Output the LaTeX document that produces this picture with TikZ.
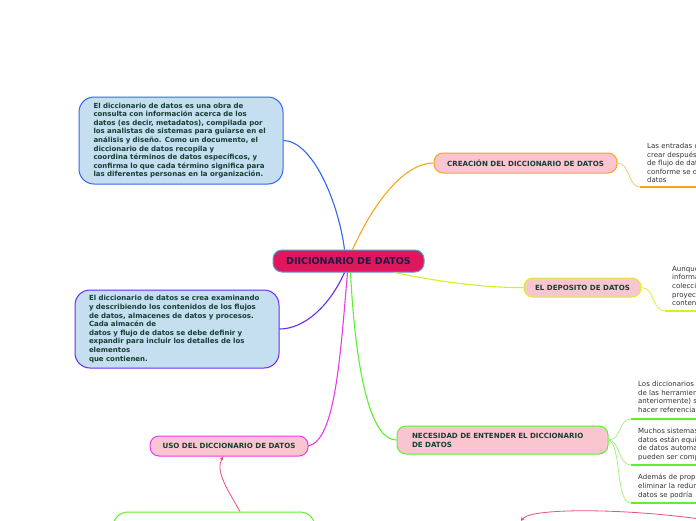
\documentclass[tikz,border=0pt]{standalone}
\usepackage{fontspec}
\setmainfont{DejaVu Sans}
\usetikzlibrary{arrows.meta}
\definecolor{centerfill}{HTML}{E0175C}
\definecolor{centerdraw}{HTML}{5A9BD5}
\definecolor{centertext}{HTML}{1A1A4A}
\definecolor{bluefill}{HTML}{C5DEF0}
\definecolor{blueline}{HTML}{3366F5}
\definecolor{purpleline}{HTML}{6A2BF0}
\definecolor{pinkfill}{HTML}{F9C6D0}
\definecolor{orangeline}{HTML}{F5A623}
\definecolor{yellowline}{HTML}{D8F020}
\definecolor{greenline}{HTML}{5EF030}
\definecolor{lightgreen}{HTML}{9CF27A}
\definecolor{magentaline}{HTML}{E83CE8}
\definecolor{darkgreen}{HTML}{133F33}
\definecolor{greytext}{HTML}{333333}
\definecolor{pinkarrow}{HTML}{E8507A}
\tikzset{
  x=1pt, y=-1pt,
  centerbox/.style={rounded corners=9pt, fill=centerfill, draw=centerdraw, line width=1pt,
    text=centertext, font=\bfseries\fontsize{9.5}{11}\selectfont, minimum width=151pt, minimum height=22pt},
  infobox/.style={rounded corners=15pt, fill=bluefill, line width=1pt, text=darkgreen,
    font=\bfseries\fontsize{7}{8.6}\selectfont, align=left, inner sep=0pt},
  topicbox/.style={rounded corners=9pt, fill=pinkfill, line width=1pt, text=darkgreen,
    font=\bfseries\fontsize{7.1}{9}\selectfont, inner sep=0pt},
  subtext/.style={anchor=north west, inner sep=0pt, align=left, text=greytext,
    font=\fontsize{7}{8.6}\selectfont},
  mainlink/.style={line width=1.1pt},
  sublink/.style={line width=0.7pt},
  underline/.style={line width=2pt},
  pinklink/.style={draw=pinkarrow, line width=0.8pt, -{Stealth[length=4pt,width=4pt]}},
}
\begin{document}
\begin{tikzpicture}
\clip (0,0) rectangle (696,520);
\fill[white] (0,0) rectangle (696,520);

% main nodes
\node[centerbox] (central) at (348.5,261) {DIICIONARIO DE DATOS};

\node[infobox, draw=blueline, minimum width=204pt, minimum height=87pt, text width=175pt] (box1) at (181,140.5)
{El diccionario de datos es una obra de\\
consulta con información acerca de los\\
datos (es decir, metadatos), compilada por\\
los analistas de sistemas para guiarse en el\\
análisis y diseño. Como un documento, el\\
diccionario de datos recopila y\\
coordina términos de datos específicos, y\\
confirma lo que cada término significa para\\
las diferentes personas en la organización.};

\node[infobox, draw=purpleline, minimum width=204pt, minimum height=78pt, text width=176pt] (box2) at (177,329)
{El diccionario de datos se crea examinando\\
y describiendo los contenidos de los flujos\\
de datos, almacenes de datos y procesos.\\
Cada almacén de\\
datos y flujo de datos se debe definir y\\
expandir para incluir los detalles de los\\
elementos\\
que contienen.};

\node[topicbox, draw=orangeline, minimum width=183pt, minimum height=20pt] (creacion) at (525.5,163)
{CREACIÓN DEL DICCIONARIO DE DATOS};
\node[topicbox, draw=yellowline, minimum width=117pt, minimum height=19pt] (deposito) at (582.5,287.5)
{EL DEPOSITO DE DATOS};
\node[topicbox, draw=greenline, minimum width=211pt, minimum height=28pt, text width=181pt, align=left] (necesidad) at (502.5,440)
{NECESIDAD DE ENTENDER EL DICCIONARIO\\DE DATOS};
\node[topicbox, draw=magentaline, minimum width=158pt, minimum height=20pt] (uso) at (229,446)
{USO DEL DICCIONARIO DE DATOS};
\node[rounded corners=15pt, fill=white, draw=greenline, line width=1pt, minimum width=202pt, minimum height=56pt, inner sep=0pt] (bottombox) at (214,540) {};

% main connectors
\draw[mainlink, draw=blueline] ([xshift=-4pt]central.north) .. controls (338,200) and (312,141) .. (box1.east);
\draw[mainlink, draw=orangeline] ([xshift=4pt]central.north) .. controls (375,200) and (405,163) .. (creacion.west);
\draw[mainlink, draw=yellowline] ([xshift=-30pt]central.south east) .. controls (430,280) and (480,288) .. (deposito.west);
\draw[mainlink, draw=purpleline] ([xshift=-4pt]central.south) .. controls (330,305) and (305,329) .. (box2.east);
\draw[mainlink, draw=magentaline] ([xshift=-1pt]central.south) .. controls (340,360) and (335,440) .. (uso.east);
\draw[mainlink, draw=greenline] ([xshift=2pt]central.south) .. controls (355,360) and (368,440) .. (necesidad.west);

% pink arrows
\draw[pinklink] ([xshift=26pt]bottombox.north) .. controls (228,490) and (215,472) .. ([xshift=-6pt]uso.south);
\coordinate (pr) at (700,519);
\coordinate (pl) at (521,521);
\draw[pinklink] (pr) .. controls (620,508) and (530,508) .. (pl);

% right side texts
\node[subtext] (t1) at (647,143) {Las entradas d\\crear después\\de flujo de dat\\conforme se d\\datos};
\coordinate (u1a) at (640,187); \coordinate (u1b) at (700,187);
\draw[sublink, draw=orangeline!70] (creacion.east) .. controls (630,163) and (628,187) .. (u1a);
\draw[underline, draw=orangeline] (u1a) -- (u1b);

\node[subtext] (t2) at (672,266) {Aunque\\informa\\coleccio\\proyec\\conten};
\coordinate (u2a) at (665,311); \coordinate (u2b) at (700,311);
\draw[sublink, draw=yellowline] (deposito.east) .. controls (655,288) and (652,311) .. (u2a);
\draw[underline, draw=yellowline] (u2a) -- (u2b);

\node[subtext] (t3) at (638,381) {Los diccionarios\\de las herramien\\anteriormente) s\\hacer referencia};
\coordinate (u3a) at (631,419); \coordinate (u3b) at (700,419);
\node[subtext] (t4) at (638,428) {Muchos sistemas\\datos están equi\\de datos automa\\pueden ser comp};
\coordinate (u4a) at (631,465); \coordinate (u4b) at (700,465);
\node[subtext] (t5) at (638,474) {Además de prop\\eliminar la redun\\datos se podría};
\coordinate (u5a) at (631,503); \coordinate (u5b) at (700,503);
\draw[sublink, draw=lightgreen] (necesidad.east) .. controls (622,440) and (618,419) .. (u3a);
\draw[sublink, draw=lightgreen] (necesidad.east) .. controls (620,440) and (618,465) .. (u4a);
\draw[sublink, draw=lightgreen] (necesidad.east) .. controls (622,445) and (615,503) .. (u5a);
\draw[underline, draw=greenline] (u3a) -- (u3b);
\draw[underline, draw=greenline] (u4a) -- (u4b);
\draw[underline, draw=greenline] (u5a) -- (u5b);
\end{tikzpicture}
\end{document}
